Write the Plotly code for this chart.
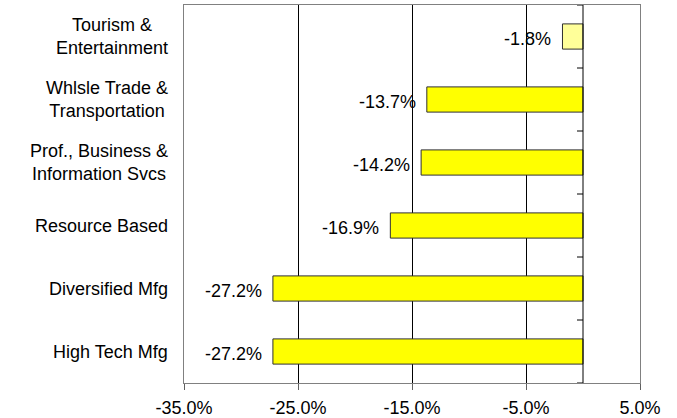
import plotly.graph_objects as go

# Data (bottom to top)
categories = ["High Tech Mfg", "Diversified Mfg", "Resource Based",
              "Prof., Business &<br>Information Svcs",
              "Whlsle Trade &<br>Transportation",
              "Tourism &<br>Entertainment"]
values = [-27.2, -27.2, -16.9, -14.2, -13.7, -1.8]
bar_colors = ["#FFFF00", "#FFFF00", "#FFFF00", "#FFFF00", "#FFFF00", "#FFFF99"]
x_tick_vals = [-35, -25, -15, -5, 5]
x_tick_text = ["-35.0%", "-25.0%", "-15.0%", "-5.0%", "5.0%"]

FONT = "Liberation Sans, Arial, sans-serif"
FS = 18

fig = go.Figure()
fig.add_trace(go.Bar(
    y=categories, x=values, orientation="h",
    marker=dict(color=bar_colors, line=dict(color="#303030", width=1)),
    hoverinfo="x+y",
))

# Value labels to the left of each bar
for c, v in zip(categories, values):
    fig.add_annotation(x=v, y=c, text=f"{v:.1f}%", showarrow=False,
                       xanchor="right", yanchor="middle", xshift=-9, yshift=-2,
                       font=dict(family=FONT, size=FS, color="black"))

# Category labels (centre-aligned lines, block right-aligned to the plot)
for c in categories:
    fig.add_annotation(x=0, xref="paper", y=c, yref="y", text=c,
                       showarrow=False, xanchor="right", yanchor="middle",
                       align="center", xshift=-14,
                       font=dict(family=FONT, size=FS, color="black"))

# Zero line (value axis crossing) with category boundary ticks
fig.add_shape(type="line", xref="x", yref="paper", x0=0, x1=0, y0=0, y1=1,
              line=dict(color="black", width=1))
n = len(categories)
for i in range(n + 1):
    b = i - 0.5
    fig.add_shape(type="line", xref="x", yref="y", xsizemode="pixel",
                  xanchor=0, x0=-6, x1=0, y0=b, y1=b,
                  line=dict(color="black", width=1))

fig.update_layout(
    width=677, height=418,
    margin=dict(l=184, r=37, t=5, b=35, autoexpand=False),
    paper_bgcolor="white", plot_bgcolor="white",
    showlegend=False,
    bargap=0.6,
    font=dict(family=FONT, size=FS, color="black"),
)
fig.update_xaxes(
    range=[-35, 5], tickvals=x_tick_vals, ticktext=x_tick_text,
    showgrid=True, gridcolor="black", gridwidth=1,
    showline=True, linecolor="#808080", linewidth=1, mirror=True,
    ticks="outside", ticklen=6, tickcolor="#606060",
    ticklabelstandoff=2,
    zeroline=False,
    tickfont=dict(family=FONT, size=FS, color="black"),
)
fig.update_yaxes(
    type="category", categoryorder="array", categoryarray=categories,
    range=[-0.5, n - 0.5],
    showgrid=False, zeroline=False,
    showline=True, linecolor="#808080", linewidth=1, mirror=True,
    ticks="", showticklabels=False,
)

fig.write_html("out.html", config={"displayModeBar": False},
               post_script="document.body.style.margin='0';document.body.style.padding='0';document.body.style.overflow='hidden';")
